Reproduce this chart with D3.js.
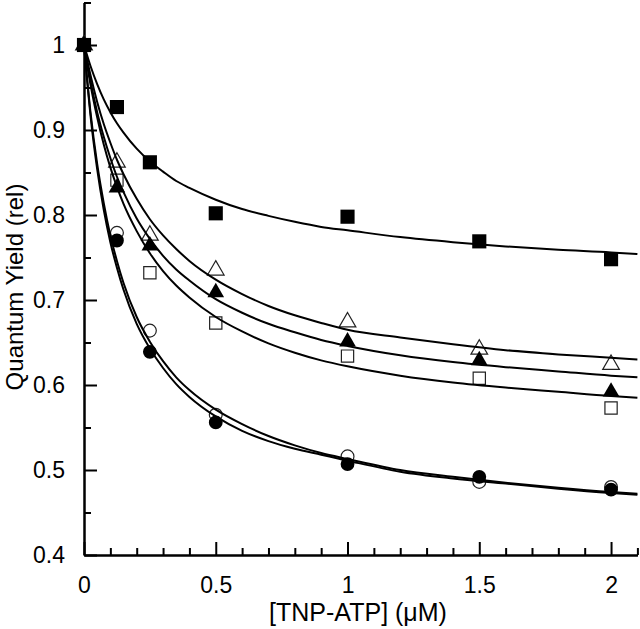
<!DOCTYPE html>
<html>
<head>
<meta charset="utf-8">
<script src="https://cdn.jsdelivr.net/npm/d3@7"></script>
<style>
  html, body { margin: 0; padding: 0; background: #fff; }
  svg { display: block; }
  text { font-family: "Liberation Sans", Arial, Helvetica, sans-serif; fill: #000; }
</style>
</head>
<body>
<svg id="chart" width="640" height="629"></svg>
<script>
// ---- data ----
const concX = [0, 0.125, 0.25, 0.5, 1, 1.5, 2];
const filledSquares   = [1.0, 0.927, 0.862, 0.802, 0.798, 0.769, 0.748];
const openTriangles   = [1.0, 0.862, 0.776, 0.735, 0.674, 0.642, 0.624];
const filledTriangles = [1.0, 0.832, 0.764, 0.709, 0.651, 0.629, 0.592];
const openSquares     = [1.0, 0.841, 0.732, 0.673, 0.634, 0.608, 0.573];
const openCircles     = [1.0, 0.779, 0.664, 0.565, 0.516, 0.486, 0.480];
const filledCircles   = [1.0, 0.770, 0.639, 0.556, 0.507, 0.492, 0.477];

// fitted curves
const curveX = [0, 0.025, 0.05, 0.075, 0.1, 0.125, 0.15, 0.2, 0.25, 0.3, 0.35, 0.4, 0.5, 0.6, 0.7, 0.8, 0.9, 1.0, 1.2, 1.4, 1.6, 1.8, 2.0, 2.1];
const fitFilledSquares   = [1, 0.975, 0.954, 0.936, 0.921, 0.908, 0.897, 0.878, 0.863, 0.851, 0.840, 0.832, 0.818, 0.807, 0.799, 0.792, 0.786, 0.782, 0.774, 0.768, 0.763, 0.759, 0.756, 0.754];
const fitOpenTriangles   = [1, 0.964, 0.933, 0.907, 0.885, 0.865, 0.848, 0.819, 0.795, 0.776, 0.760, 0.746, 0.724, 0.707, 0.693, 0.682, 0.673, 0.665, 0.656, 0.648, 0.641, 0.636, 0.632, 0.630];
const fitFilledTriangles = [1, 0.957, 0.921, 0.892, 0.867, 0.845, 0.827, 0.796, 0.772, 0.752, 0.736, 0.723, 0.701, 0.685, 0.672, 0.662, 0.653, 0.646, 0.635, 0.627, 0.621, 0.616, 0.611, 0.609];
const fitOpenSquares     = [1, 0.953, 0.915, 0.883, 0.856, 0.833, 0.813, 0.781, 0.755, 0.734, 0.717, 0.703, 0.680, 0.663, 0.649, 0.638, 0.629, 0.622, 0.611, 0.603, 0.597, 0.592, 0.587, 0.585];
const fitOpenCircles     = [1, 0.920, 0.860, 0.814, 0.776, 0.746, 0.720, 0.680, 0.651, 0.628, 0.609, 0.594, 0.571, 0.554, 0.540, 0.529, 0.520, 0.513, 0.500, 0.492, 0.485, 0.479, 0.474, 0.472];
const fitFilledCircles   = [1, 0.916, 0.854, 0.806, 0.768, 0.738, 0.712, 0.672, 0.643, 0.620, 0.601, 0.586, 0.563, 0.546, 0.534, 0.525, 0.518, 0.511, 0.498, 0.490, 0.484, 0.478, 0.473, 0.471];

const xMajorTicks = [0, 0.5, 1, 1.5, 2];
const xMinorTicks = [0.1, 0.2, 0.3, 0.4, 0.6, 0.7, 0.8, 0.9, 1.1, 1.2, 1.3, 1.4, 1.6, 1.7, 1.8, 1.9, 2.1];
const yMajorTicks = [0.4, 0.5, 0.6, 0.7, 0.8, 0.9, 1];
const yMinorTicks = [0.45, 0.55, 0.65, 0.75, 0.85, 0.95, 1.05];
const xTitle = "[TNP-ATP] (\u03BCM)";
const yTitle = "Quantum Yield (rel)";

// ---- layout ----
const svg = d3.select("#chart");
const x = d3.scaleLinear().domain([0, 2.1]).range([84, 637.4]);
const y = d3.scaleLinear().domain([0.4, 1.05]).range([555, 2.5]);

const tickFont = 23;
const titleFont = 24;

// axes
const gx = svg.append("g").attr("transform", `translate(0,${y(0.4)})`)
  .call(d3.axisBottom(x).tickValues(xMajorTicks).tickSizeInner(-13).tickSizeOuter(0).tickPadding(22)
    .tickFormat(d3.format("~g")));
const gxm = svg.append("g").attr("transform", `translate(0,${y(0.4)})`)
  .call(d3.axisBottom(x).tickValues(xMinorTicks).tickSizeInner(-7).tickSizeOuter(0).tickFormat(""));
const gy = svg.append("g").attr("transform", `translate(${x(0)},0)`)
  .call(d3.axisLeft(y).tickValues(yMajorTicks).tickSizeInner(-13).tickSizeOuter(0).tickPadding(19)
    .tickFormat(d3.format("~g")));
const gym = svg.append("g").attr("transform", `translate(${x(0)},0)`)
  .call(d3.axisLeft(y).tickValues(yMinorTicks).tickSizeInner(-7).tickSizeOuter(0).tickFormat(""));

[gx, gxm, gy, gym].forEach(g => {
  g.attr("font-size", tickFont).attr("font-family", "Liberation Sans, Arial, sans-serif");
  g.selectAll(".domain").attr("stroke", "#000").attr("stroke-width", 2);
  g.selectAll(".tick line").attr("stroke", "#000").attr("stroke-width", 2);
  g.selectAll(".tick text").attr("font-size", tickFont).attr("fill", "#000");
});

// titles
svg.append("text").attr("x", 358).attr("y", 621).attr("text-anchor", "middle")
  .attr("font-size", titleFont + 1).text(xTitle);
svg.append("text").attr("transform", `translate(23,287) rotate(-90)`).attr("text-anchor", "middle")
  .attr("font-size", titleFont).text(yTitle);

// markers
function markers(vals, type, filled, size) {
  const sym = d3.symbol().type(type).size(size);
  svg.append("g").selectAll("path").data(concX.map((c, i) => [c, vals[i]])).join("path")
    .attr("transform", d => `translate(${x(d[0])},${y(d[1])})`)
    .attr("d", sym)
    .attr("fill", filled ? "#000" : "#fff")
    .attr("stroke", filled ? "none" : "#222")
    .attr("stroke-width", 1.2);
}

markers(openSquares, d3.symbolSquare, false, 150);
markers(openTriangles, d3.symbolTriangle, false, 120);
markers(openCircles, d3.symbolCircle, false, 130);

// curves
const line = d3.line().x((d, i) => x(curveX[i])).y(d => y(d)).curve(d3.curveMonotoneX);
[fitFilledSquares, fitOpenTriangles, fitFilledTriangles, fitOpenSquares, fitOpenCircles, fitFilledCircles]
  .forEach(vals => {
    svg.append("path").datum(vals).attr("d", line)
      .attr("fill", "none").attr("stroke", "#000").attr("stroke-width", 2);
  });

markers(filledSquares, d3.symbolSquare, true, 200);
markers(filledTriangles, d3.symbolTriangle, true, 120);
markers(filledCircles, d3.symbolCircle, true, 150);
</script>
</body>
</html>
